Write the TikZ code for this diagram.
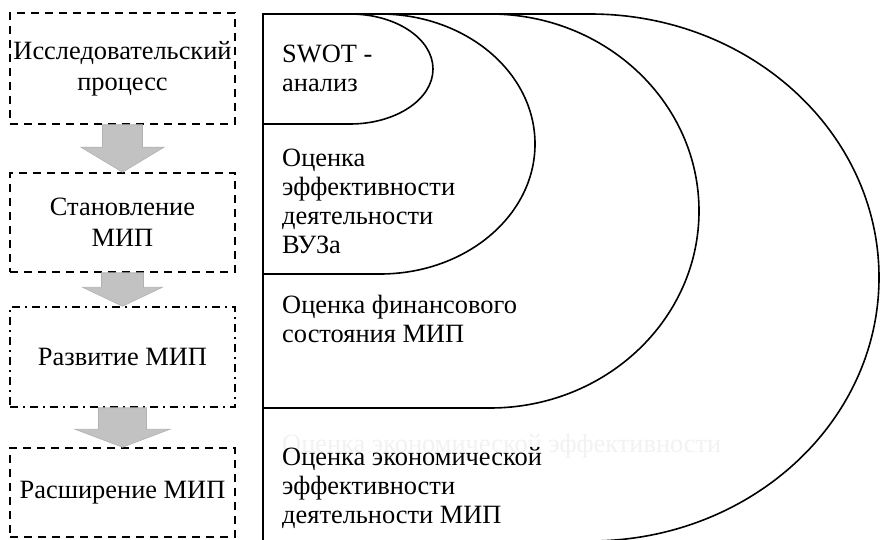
\documentclass[tikz,border=0pt]{standalone}
\usepackage{fontspec}
\setmainfont{Liberation Serif}
\usetikzlibrary{calc}

\tikzset{
  stage/.style={draw, line width=1.5pt, dash pattern=on 8pt off 6pt, minimum width=225pt,
    inner sep=0pt, align=center, font=\fontsize{26.4}{31}\selectfont},
  stagedashdot/.style={stage, dash pattern=on 8pt off 5pt on 2pt off 5pt},
  blockarrow/.style={fill=black!24, draw=black!30, line width=0.6pt},
  level/.style={draw, line width=1.6pt, fill=white},
  leveltext/.style={anchor=base west, inner sep=0pt, align=left, font=\fontsize{26.4}{29}\selectfont},
}

% block arrow: from, to, shaft half width, head half width, head length
\newcommand{\stagearrow}[5]{%
  \draw[blockarrow] ($(#1.south)+(-#3,0)$) -- ($(#1.south)+(#3,0)$)
    -- ($(#2.north)+(#3,-#5)$) -- ($(#2.north)+(#4,-#5)$) -- (#2.north)
    -- ($(#2.north)+(-#4,-#5)$) -- ($(#2.north)+(-#3,-#5)$) -- cycle;
}

\begin{document}
\begin{tikzpicture}[x=1pt,y=-1pt]
  \useasboundingbox (0,0) rectangle (880,540);

  % Stages
  \node[stage, minimum height=111pt] (research) at (122.5,68.5) {Исследовательский\\процесс};
  \node[stage, minimum height=99pt] (formation) at (122.5,222.5) {Становление\\МИП};
  \node[stagedashdot, minimum height=100pt] (growth) at (122.5,357) {Развитие МИП};
  \node[stage, minimum height=89pt] (expansion) at (122.5,492.5) {Расширение МИП};

  % Arrows between stages
  \stagearrow{research}{formation}{20}{41.5}{25}
  \stagearrow{formation}{growth}{21}{40}{19}
  \stagearrow{growth}{expansion}{24}{47.5}{18}

  % Nested levels of evaluation
  \draw[level] (263,14) -- (590,14) arc[start angle=-90, end angle=90, x radius=289, y radius=263.5] -- (263,541) -- cycle;
  \draw[level] (263,14) -- (490,14) arc[start angle=-90, end angle=90, x radius=209, y radius=197] -- (263,408) -- cycle;
  \draw[level] (263,14) -- (380,14) arc[start angle=-90, end angle=90, x radius=155, y radius=130] -- (263,274) -- cycle;
  \draw[level] (263,14) -- (350,14) arc[start angle=-90, end angle=90, x radius=83, y radius=55] -- (263,124) -- cycle;

  % Labels (placed by the baseline of their last line)
  \node[leveltext] (swot) at (282,92) {SWOT -\\анализ};
  \node[leveltext] (university) at (282,253) {Оценка\\эффективности\\деятельности\\ВУЗа};
  \node[leveltext] (finance) at (282,342) {Оценка финансового\\состояния МИП};
  \node[leveltext, text=black!5] (ghost) at (282,452) {Оценка экономической эффективности};
  \node[leveltext] (economy) at (282,523) {Оценка экономической\\эффективности\\деятельности МИП};
\end{tikzpicture}
\end{document}
